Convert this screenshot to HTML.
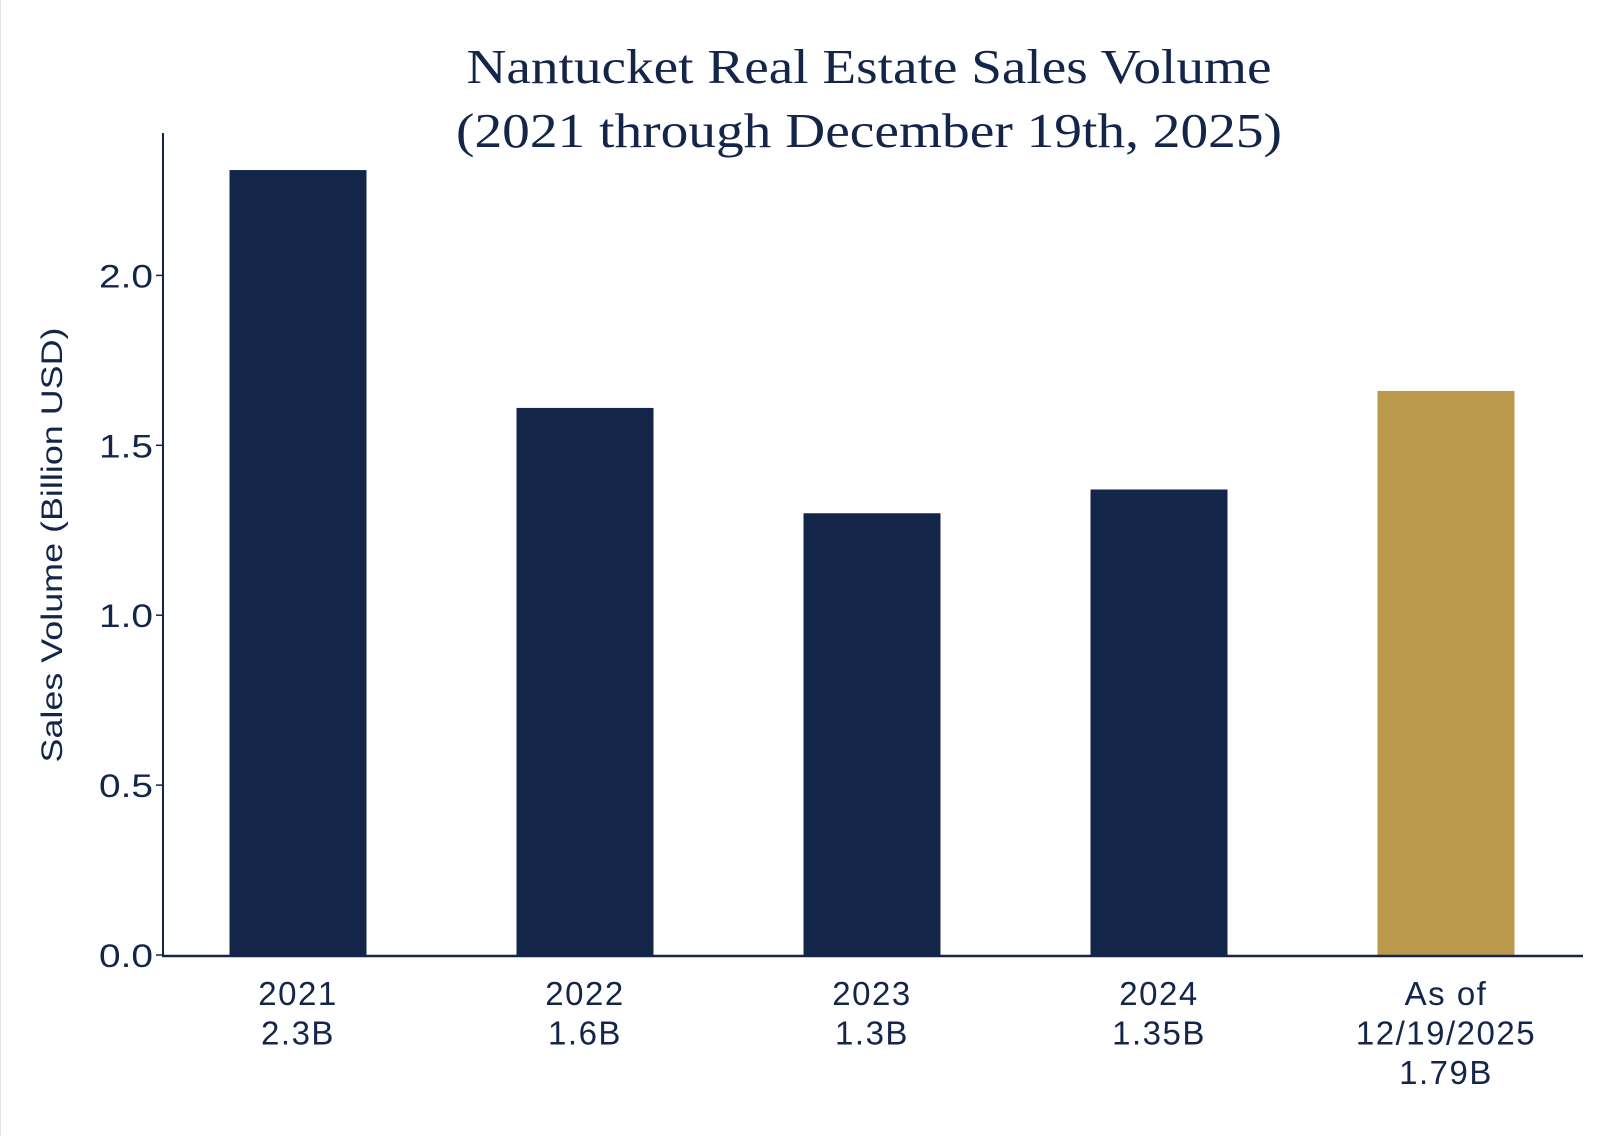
<!DOCTYPE html>
<html><head><meta charset="utf-8"><style>
html,body{margin:0;padding:0;background:#fff;}
svg{display:block;}
</style></head><body>
<svg id="chart" width="1600" height="1136" viewBox="0 0 1600 1136" xmlns="http://www.w3.org/2000/svg">
<rect x="0" y="0" width="1600" height="1136" fill="#fff"/>
<line x1="0.5" y1="0" x2="0.5" y2="1136" stroke="#e4e4e4" stroke-width="1"/>
<g font-family="'Liberation Serif', serif" font-size="49" fill="#14254a" text-anchor="middle">
<text x="869" y="83" textLength="805" lengthAdjust="spacingAndGlyphs">Nantucket Real Estate Sales Volume</text>
<text x="869" y="147" textLength="826" lengthAdjust="spacingAndGlyphs">(2021 through December 19th, 2025)</text>
</g>
<text transform="translate(62,545) rotate(-90)" text-anchor="middle" font-family="'Liberation Sans', sans-serif" font-size="30" fill="#14254a" textLength="435" lengthAdjust="spacingAndGlyphs">Sales Volume (Billion USD)</text>
<g id="bars"></g>
<g id="yaxis"></g>
<g id="xlabels"></g>
</svg>
<script>
const categories = ["2021", "2022", "2023", "2024", "As of\n12/19/2025"];
const valueLabels = ["2.3B", "1.6B", "1.3B", "1.35B", "1.79B"];
const values = [2.31, 1.61, 1.30, 1.37, 1.66];
const yTicks = [0.0, 0.5, 1.0, 1.5, 2.0];
const yTickLabels = ["0.0", "0.5", "1.0", "1.5", "2.0"];

const NS = "http://www.w3.org/2000/svg";
const y0 = 955, pxPerUnit = 339.8;
function yScale(v){ return y0 - v * pxPerUnit; }
function xCenter(i){ return 298 + i * 287; }
const barW = 137;

const bars = document.getElementById('bars');
values.forEach((v, i) => {
  const r = document.createElementNS(NS, 'rect');
  
  
  r.setAttribute('x', xCenter(i) - barW / 2);
  r.setAttribute('y', yScale(v));
  r.setAttribute('width', barW);
  r.setAttribute('height', yScale(0) - yScale(v));
  r.setAttribute('fill', i === values.length - 1 ? '#bb9a4e' : '#14254a');
  bars.appendChild(r);
});

const ya = document.getElementById('yaxis');
const axisLine = document.createElementNS(NS, 'line');


axisLine.setAttribute('x1', 163); axisLine.setAttribute('x2', 163);
axisLine.setAttribute('y1', 133); axisLine.setAttribute('y2', 956);
axisLine.setAttribute('stroke', '#14254a'); axisLine.setAttribute('stroke-width', 2);
ya.appendChild(axisLine);
const xLine = document.createElementNS(NS, 'line');


xLine.setAttribute('x1', 162); xLine.setAttribute('x2', 1583);
xLine.setAttribute('y1', 956); xLine.setAttribute('y2', 956);
xLine.setAttribute('stroke', '#14254a'); xLine.setAttribute('stroke-width', 2.5);
ya.appendChild(xLine);
yTicks.forEach((t, i) => {
  const tk = document.createElementNS(NS, 'line');
  
  
  tk.setAttribute('x1', 156); tk.setAttribute('x2', 163);
  tk.setAttribute('y1', yScale(t)); tk.setAttribute('y2', yScale(t));
  tk.setAttribute('stroke', '#14254a'); tk.setAttribute('stroke-width', 1.5);
  ya.appendChild(tk);
  const tx = document.createElementNS(NS, 'text');
  
  
  tx.setAttribute('x', 153); tx.setAttribute('y', yScale(t) + 12);
  tx.setAttribute('text-anchor', 'end');
  tx.setAttribute('font-family', "'Liberation Sans', sans-serif");
  tx.setAttribute('font-size', 32);
  tx.setAttribute('textLength', 54);
  tx.setAttribute('lengthAdjust', 'spacingAndGlyphs');
  tx.setAttribute('fill', '#14254a');
  tx.textContent = yTickLabels[i];
  ya.appendChild(tx);
});

const xl = document.getElementById('xlabels');
categories.forEach((c, i) => {
  const lines = c.split('\n').concat([valueLabels[i]]);
  const g = document.createElementNS(NS, 'text');
  
  
  g.setAttribute('text-anchor', 'middle');
  g.setAttribute('font-family', "'Liberation Sans', sans-serif");
  g.setAttribute('font-size', 33);
  g.setAttribute('letter-spacing', '1.5');
  g.setAttribute('fill', '#14254a');
  lines.forEach((ln, j) => {
    const ts = document.createElementNS(NS, 'tspan');
    ts.setAttribute('x', xCenter(i));
    ts.setAttribute('y', 1005 + j * 39.5);
    ts.textContent = ln;
    g.appendChild(ts);
  });
  xl.appendChild(g);
});
</script>
</body></html>
